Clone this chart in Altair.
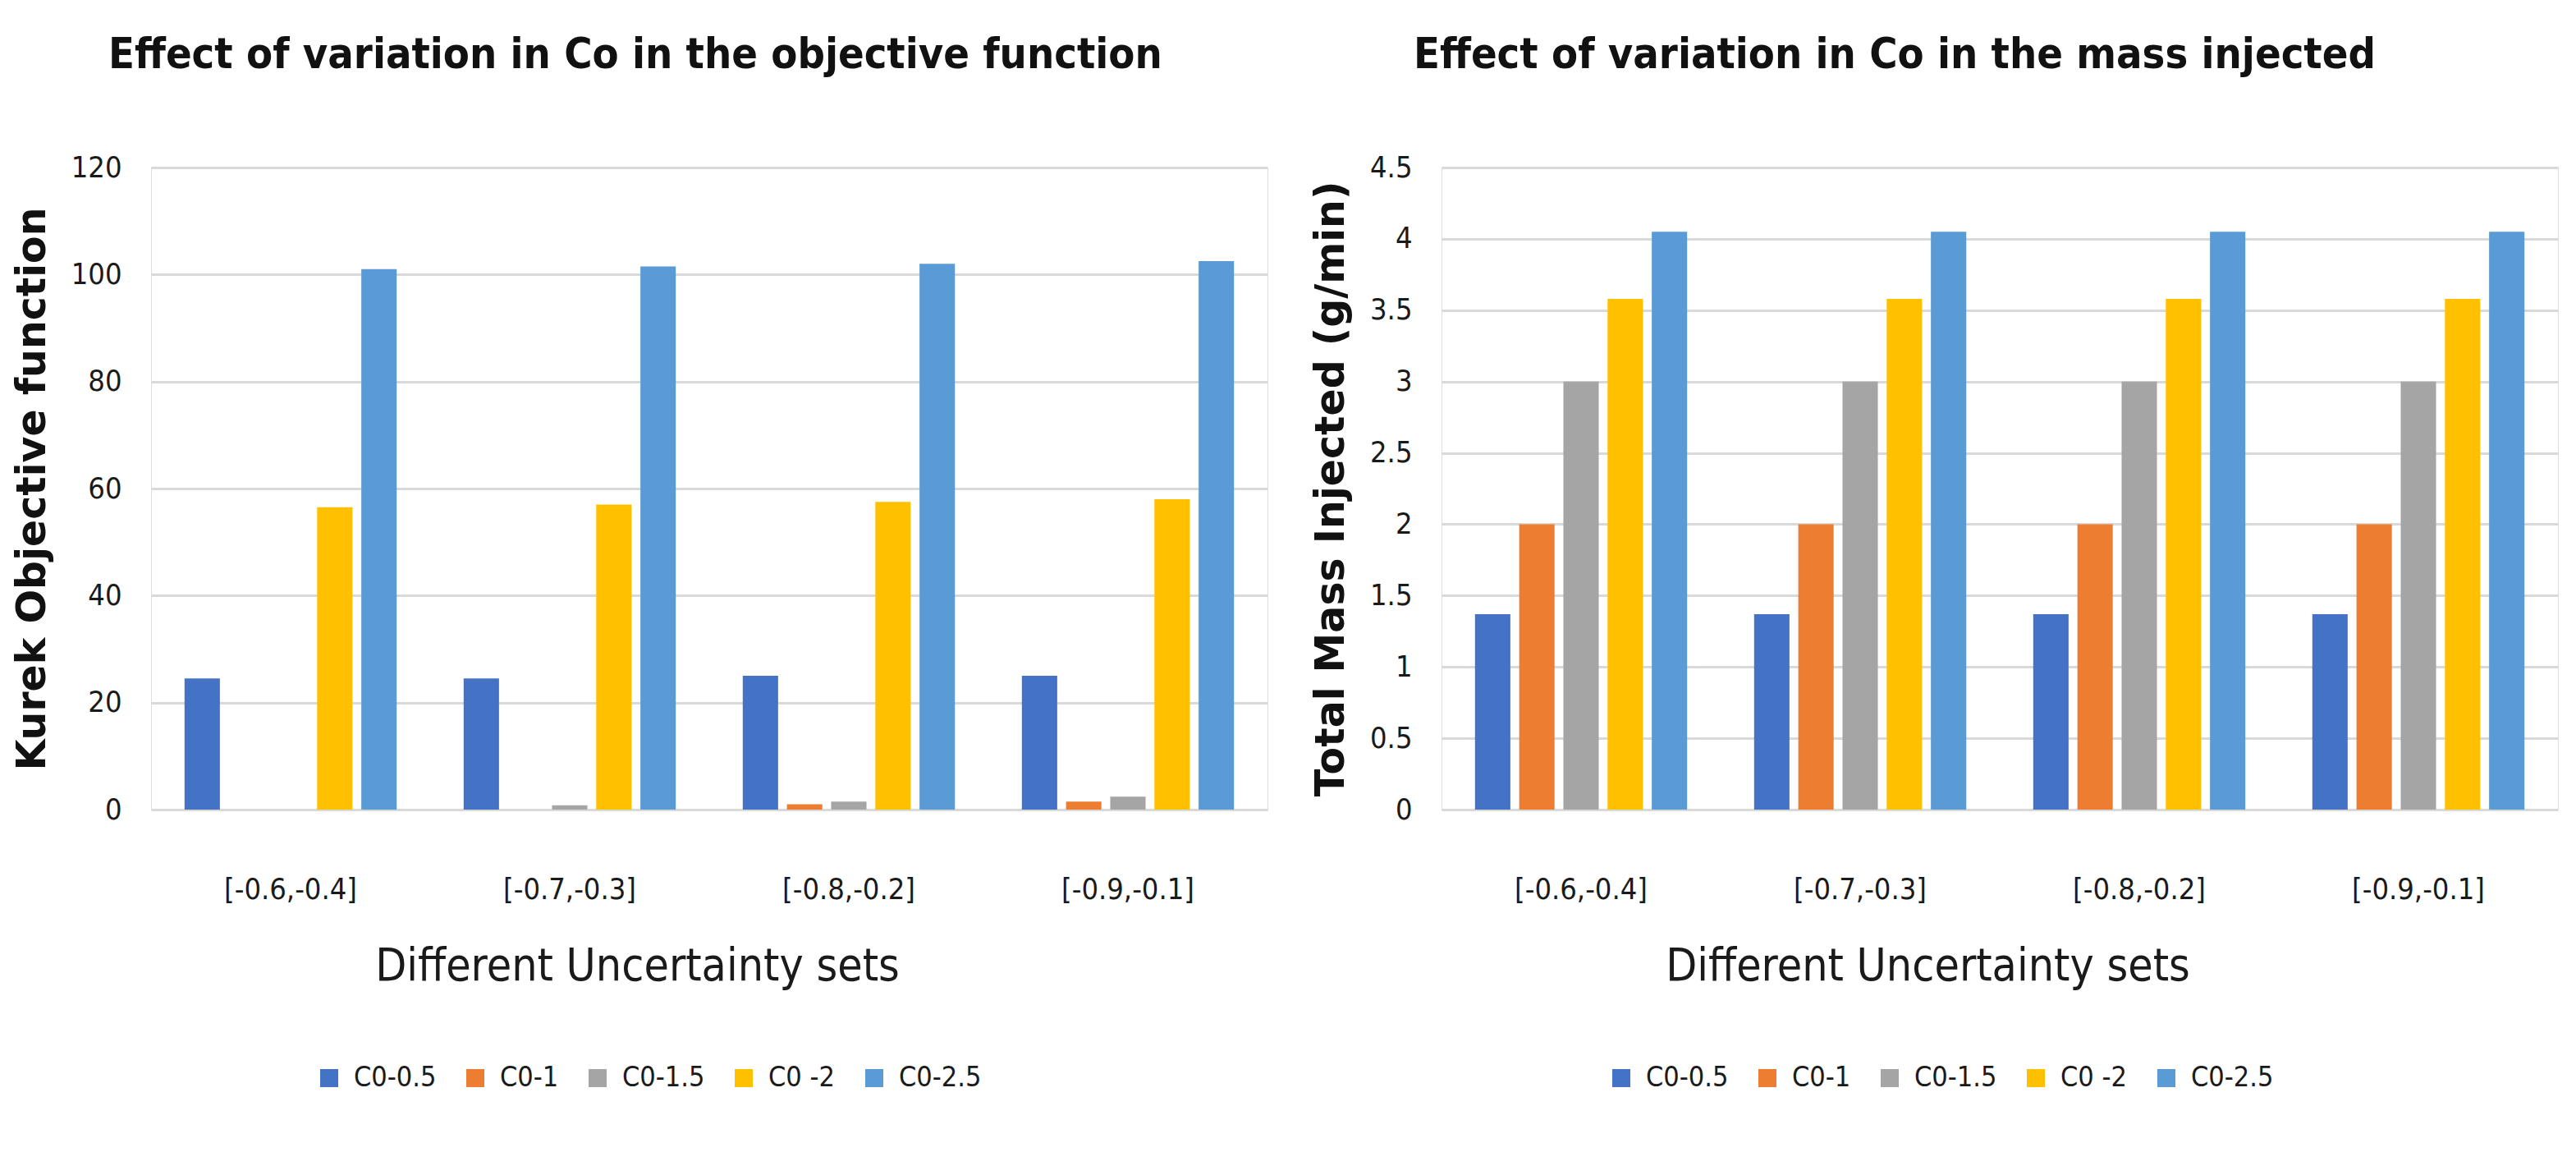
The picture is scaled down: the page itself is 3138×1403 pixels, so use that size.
import altair as alt
import pandas as pd

groups = ["[-0.6,-0.4]", "[-0.7,-0.3]", "[-0.8,-0.2]", "[-0.9,-0.1]"]
series = ["C0-0.5", "C0-1", "C0-1.5", "C0 -2", "C0-2.5"]
colors = ["#4472C4", "#ED7D31", "#A5A5A5", "#FFC000", "#5B9BD5"]

# Kurek objective function
obj_c05 = [24.5, 24.5, 25.0, 25.0]
obj_c1 = [0.0, 0.0, 1.0, 1.5]
obj_c15 = [0.0, 0.8, 1.5, 2.4]
obj_c2 = [56.5, 57.0, 57.5, 58.0]
obj_c25 = [101.0, 101.5, 102.0, 102.5]

# Total mass injected (g/min)
mass_c05 = [1.37, 1.37, 1.37, 1.37]
mass_c1 = [2.0, 2.0, 2.0, 2.0]
mass_c15 = [3.0, 3.0, 3.0, 3.0]
mass_c2 = [3.58, 3.58, 3.58, 3.58]
mass_c25 = [4.05, 4.05, 4.05, 4.05]

obj_ticks = [0, 20, 40, 60, 80, 100, 120]
mass_ticks = [0, 0.5, 1, 1.5, 2, 2.5, 3, 3.5, 4, 4.5]


def long_df(cols):
    rows = []
    for s, vals in zip(series, cols):
        for g, v in zip(groups, vals):
            rows.append({"set": g, "series": s, "value": v})
    return pd.DataFrame(rows)


obj_df = long_df([obj_c05, obj_c1, obj_c15, obj_c2, obj_c25])
mass_df = long_df([mass_c05, mass_c1, mass_c15, mass_c2, mass_c25])

NARROW = "DejaVu Sans Condensed"


def panel(df, title, ytitle, ymax, ticks, fmt, legx, tdx):
    return alt.Chart(df).mark_bar().encode(
        x=alt.X(
            "set:N",
            sort=groups,
            title="Different Uncertainty sets",
            scale=alt.Scale(paddingInner=0.24, paddingOuter=0.12),
            axis=alt.Axis(
                labelAngle=0,
                labelFont=NARROW,
                labelFontSize=36,
                labelColor="#1a1a1a",
                labelPadding=80,
                labelBaseline="top",
                ticks=False,
                domain=False,
                titleFont=NARROW,
                titleFontSize=55,
                titleFontWeight="normal",
                titleColor="#1a1a1a",
                titleX=592,
                titleY=190,
                titleBaseline="middle",
                titleAlign="center",
            ),
        ),
        xOffset=alt.XOffset("series:N", sort=series, scale=alt.Scale(paddingInner=0.2)),
        y=alt.Y(
            "value:Q",
            title=ytitle,
            scale=alt.Scale(domain=[0, ymax], nice=False, zero=True),
            axis=alt.Axis(
                values=ticks,
                format=fmt,
                grid=True,
                gridColor="#D9D9D9",
                gridWidth=3,
                ticks=False,
                domain=False,
                labelFont=NARROW,
                labelFontSize=36,
                labelColor="#1a1a1a",
                labelPadding=36,
                titleFont="DejaVu Sans",
                titleFontSize=49,
                titleFontWeight="bold",
                titleColor="#111111",
                titlePadding=22,
            ),
        ),
        color=alt.Color(
            "series:N",
            sort=series,
            scale=alt.Scale(domain=series, range=colors),
            legend=alt.Legend(
                title=None,
                orient="none",
                direction="horizontal",
                legendX=legx,
                legendY=1092,
                symbolType="square",
                symbolSize=484,
                symbolStrokeWidth=0,
                labelFont=NARROW,
                labelFontSize=34,
                labelColor="#1a1a1a",
                labelOffset=13,
                columnPadding=30,
            ),
        ),
    ).properties(
        width=1360,
        height=782,
        title=alt.TitleParams(
            title,
            font=NARROW,
            fontSize=52,
            fontWeight="bold",
            color="#111111",
            anchor="start",
            frame="group",
            dx=tdx,
            offset=92,
        ),
    )


left = panel(obj_df, "Effect of variation in Co in the objective function",
             "Kurek Objective function", 120, obj_ticks, "d", 200, -52)
right = panel(mass_df, "Effect of variation in Co in the mass injected",
              "Total Mass Injected (g/min)", 4.5, mass_ticks, "~g", 202, -34)

chart = alt.hconcat(left, right, spacing=52).resolve_scale(
    color="independent"
).configure_view(stroke=None).configure(background="white").properties(
    padding={"top": 32, "left": 6, "right": 5, "bottom": 5}
)

chart.save("out.html", embed_options={"renderer": "svg", "actions": False})
